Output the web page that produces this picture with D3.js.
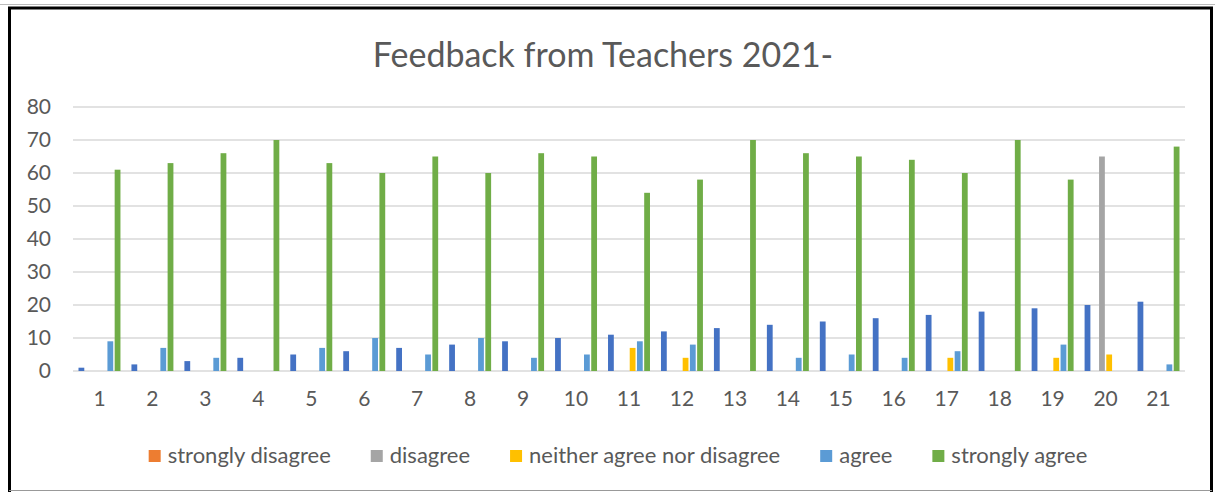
<!DOCTYPE html>
<html>
<head>
<meta charset="utf-8">
<script src="https://cdn.jsdelivr.net/npm/d3@7"></script>
<style>
  body { margin: 0; background: #fff; }
  text { font-family: Lato, "Open Sans", sans-serif; fill: #595959; }
</style>
</head>
<body>
<svg id="chart"></svg>
<script>
const questions = d3.range(1, 22).map(String);
const seriesNames = ["index", "strongly disagree", "disagree", "neither agree nor disagree", "agree", "strongly agree"];
const seriesColors = ["#4472C4", "#ED7D31", "#A5A5A5", "#FFC000", "#5B9BD5", "#70AD47"];

// first series is the question number column that Excel plotted too (no legend entry)
const indexValues = [1, 2, 3, 4, 5, 6, 7, 8, 9, 10, 11, 12, 13, 14, 15, 16, 17, 18, 19, 20, 21];
const stronglyDisagree = [0, 0, 0, 0, 0, 0, 0, 0, 0, 0, 0, 0, 0, 0, 0, 0, 0, 0, 0, 0, 0];
const disagree = [0, 0, 0, 0, 0, 0, 0, 0, 0, 0, 0, 0, 0, 0, 0, 0, 0, 0, 0, 65, 0];
const neither = [0, 0, 0, 0, 0, 0, 0, 0, 0, 0, 7, 4, 0, 0, 0, 0, 4, 0, 4, 5, 0];
const agree = [9, 7, 4, 0, 7, 10, 5, 10, 4, 5, 9, 8, 0, 4, 5, 4, 6, 0, 8, 0, 2];
const stronglyAgree = [61, 63, 66, 70, 63, 60, 65, 60, 66, 65, 54, 58, 70, 66, 65, 64, 60, 70, 58, 0, 68];
const yTicks = [0, 10, 20, 30, 40, 50, 60, 70, 80];

const allSeries = [indexValues, stronglyDisagree, disagree, neither, agree, stronglyAgree];

const width = 1215, height = 492;
const svg = d3.select("#chart").attr("width", width).attr("height", height);

// frame
svg.append("line").attr("x1", 0).attr("x2", width).attr("y1", 4.5).attr("y2", 4.5)
  .attr("stroke", "#bbb").attr("stroke-width", 1);
svg.append("path")
  .attr("d", "M9.5,492 V8 H1211.5 V492")
  .attr("fill", "none").attr("stroke", "#000").attr("stroke-width", 3);
svg.append("line").attr("x1", 9).attr("x2", 1212).attr("y1", 490.5).attr("y2", 490.5)
  .attr("stroke", "#999").attr("stroke-width", 1);

svg.append("text")
  .attr("x", 603).attr("y", 67)
  .attr("text-anchor", "middle")
  .style("font-size", "34px")
  .text("Feedback from Teachers 2021-");

const plotLeft = 73, plotRight = 1185, plotTop = 107, plotBottom = 371;

const x = d3.scaleBand().domain(questions).range([plotLeft, plotRight]);
const gap = 11;
const xInner = d3.scaleBand().domain(d3.range(seriesNames.length))
  .range([gap / 2, x.bandwidth() - gap / 2]).paddingInner(0.2);
const y = d3.scaleLinear().domain([0, 80]).range([plotBottom, plotTop]);

// gridlines
svg.append("g").selectAll("line").data(yTicks).join("line")
  .attr("x1", plotLeft).attr("x2", plotRight)
  .attr("y1", d => y(d)).attr("y2", d => y(d))
  .attr("stroke", "#d9d9d9").attr("stroke-width", 1.5);

const yAxis = svg.append("g")
  .attr("transform", `translate(${plotLeft - 22},0)`)
  .call(d3.axisLeft(y).tickValues(yTicks).tickSize(0).tickPadding(0));
yAxis.select(".domain").remove();
yAxis.selectAll("text").style("font-size", "21px").style("fill", "#595959");

const xAxis = svg.append("g")
  .attr("transform", `translate(0,${plotBottom})`)
  .call(d3.axisBottom(x).tickSize(0).tickPadding(20));
xAxis.select(".domain").remove();
xAxis.selectAll("text").style("font-size", "21px").style("fill", "#595959");

// bars
const groups = svg.append("g").selectAll("g").data(questions).join("g")
  .attr("transform", d => `translate(${x(d)},0)`);
groups.selectAll("rect")
  .data((q, qi) => allSeries.map((s, si) => ({ si, v: s[qi] })).filter(d => d.v > 0))
  .join("rect")
  .attr("x", d => xInner(d.si))
  .attr("width", xInner.bandwidth())
  .attr("y", d => y(d.v))
  .attr("height", d => y(0) - y(d.v))
  .attr("fill", d => seriesColors[d.si]);

// legend (skips the index series)
const legend = svg.append("g");
const items = seriesNames.slice(1).map((name, i) => ({ name, color: seriesColors[i + 1] }));
let cx = 0;
items.forEach(it => {
  const g = legend.append("g").attr("transform", `translate(${cx},0)`);
  g.append("rect").attr("x", 0).attr("y", -6).attr("width", 12).attr("height", 12).attr("fill", it.color);
  const t = g.append("text").attr("x", 19).attr("y", 7).style("font-size", "22px").text(it.name);
  cx += 19 + t.node().getComputedTextLength() + 40;
});
const legendW = cx - 40;
legend.attr("transform", `translate(${618 - legendW / 2},456)`);
</script>
</body>
</html>
